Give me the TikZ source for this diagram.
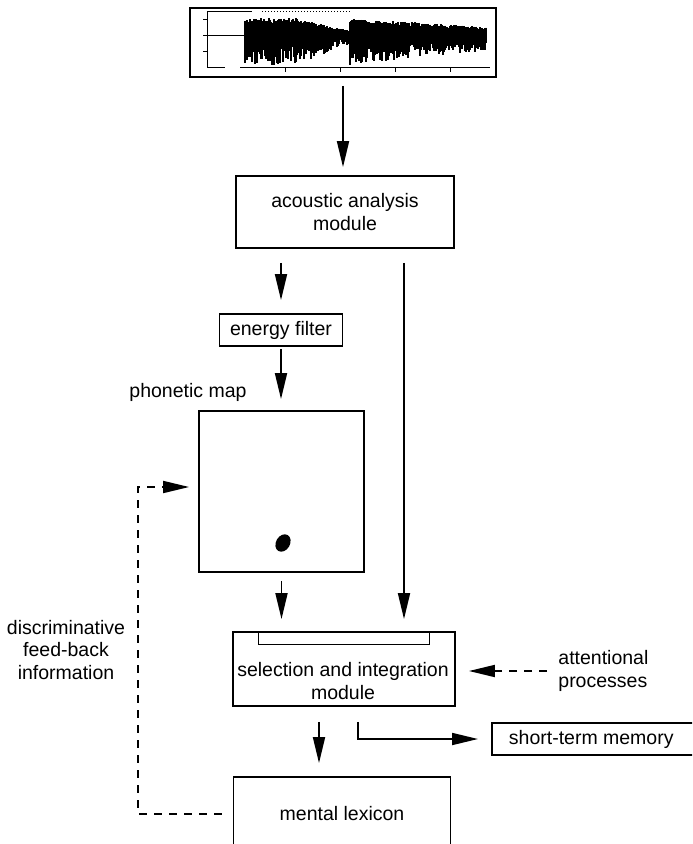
\documentclass[tikz,border=0pt]{standalone}
\usepackage{fontspec}
\setmainfont{Liberation Sans}
\usetikzlibrary{arrows.meta}

\begin{document}
\begin{tikzpicture}[x=0.5pt, y=-0.5pt,
  font=\fontsize{9.75}{11.25}\selectfont,
  box/.style={draw, line width=0.9pt, inner sep=0pt, align=center},
  arr/.style={-{Triangle[length=13pt, width=6pt]}, line width=0.9pt},
  fbarr/.style={arr, dash pattern=on 4pt off 3.5pt}]
\useasboundingbox (0,0) rectangle (692,844);
\clip (0,0) rectangle (692,844);

% speech signal
\node[box, minimum width=153pt, minimum height=34.5pt] (wave) at (343,42.5) {};
\draw[line width=0.5pt] (207,12) -- (207,68) -- (225,68);
\foreach \v in {20,36,52} \draw[line width=0.5pt] (203,\v) -- (207,\v);
\draw[line width=0.5pt] (207,12) -- (252,12);
\draw[line width=0.5pt, densely dotted] (262,12) -- (350,12);
\draw[line width=0.5pt] (240,68) -- (490,68);
\foreach \v in {285,340,395,450} \draw[line width=0.5pt] (\v,68) -- (\v,72);
\draw[line width=0.5pt] (207,36) -- (245,36);
\pgfmathsetseed{5}
\foreach \t in {245,...,486}{
  \pgfmathsetmacro\env{\t<350 ? (\t<295 ? 1 : 1-0.7*(\t-295)/55) : 1-0.5*(\t-350)/136}
  \pgfmathsetmacro\up{36-\env*(13+5*rnd)}
  \pgfmathsetmacro\dn{36+\env*(10+19*rnd)}
  \draw[line width=0.55pt] (\t,\up) -- (\t,\dn);
}

\node[box, minimum width=109pt, minimum height=36pt] (acoustic) at (345,212) {acoustic analysis\\module};
\node[box, minimum width=61.5pt, minimum height=16pt] (filter) at (281,330) {energy filter};
\node (maplabel) at (188,392) {phonetic map};
\node[box, minimum width=82.5pt, minimum height=80.5pt] (map) at (281.5,491.5) {};
\fill (283,543) ellipse [x radius=3.5pt, y radius=4.6pt, rotate=-30];
\node[box, minimum width=111pt, minimum height=37pt] (select) at (344,669) {};
\node[draw, line width=0.6pt, inner sep=0pt, minimum width=85.5pt, minimum height=6.5pt, anchor=north] (bar) at (select.north) {};
\node[align=center] (seltext) at (343,681) {selection and integration\\module};
\node[box, minimum width=108.5pt, minimum height=37pt] (mental) at (342,814) {mental lexicon};
\node[box, anchor=west, minimum height=16pt, inner xsep=8.5pt] (stm) at (491,739) {short-term memory\hspace{25pt}};
\node[align=center] (fbtext) at (66,650) {discriminative\\feed-back\\information};
\node[anchor=west, align=left, inner sep=0pt] (att) at (558,671) {attentional\\processes};

\coordinate (tap) at ([xshift=29.5pt]acoustic.south);
\coordinate (fbk) at (138,487);

\draw[arr, shorten <=4pt, shorten >=4pt] (wave) -- (wave |- acoustic.north);
\draw[arr, shorten <=7pt, shorten >=6.5pt] (acoustic.south -| filter.north) -- (filter.north);
\draw[arr, shorten <=7pt, shorten >=6pt] (tap) -- (tap |- select.north);
\draw[arr, shorten <=1pt, shorten >=5.5pt] (filter) -- (filter |- map.north);
\draw[arr, shorten <=4pt, shorten >=6pt] (map) -- (map |- select.north);
\draw[arr, shorten <=7.5pt, shorten >=6.5pt] ([xshift=-12.5pt]select.south) -- ([xshift=-12.5pt]select.south |- mental.north);
\draw[arr, shorten <=7.5pt, shorten >=6.5pt] ([xshift=7pt]select.south) |- (stm.west);
\draw[fbarr, shorten <=5.5pt, shorten >=6.5pt] (att.west) -- (att.west -| select.east);
\draw[fbarr, shorten <=5.5pt, shorten >=4.5pt] (mental.west) -| (fbk) -- (fbk -| map.west);

\end{tikzpicture}
\end{document}
